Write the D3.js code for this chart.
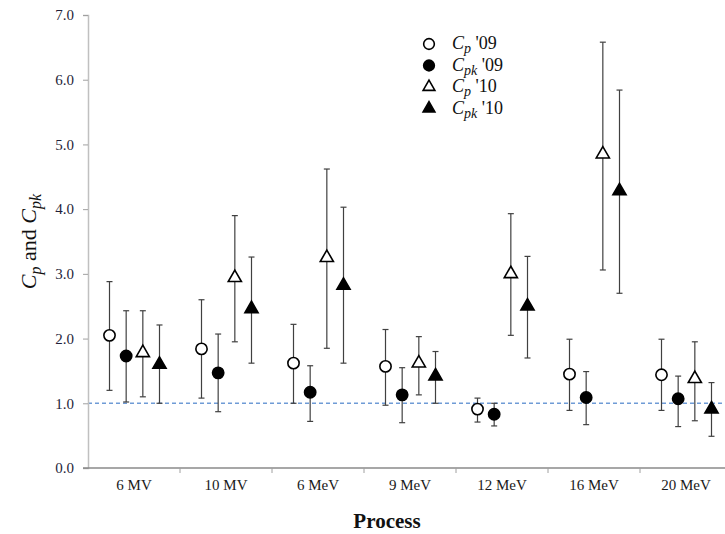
<!DOCTYPE html>
<html>
<head>
<meta charset="utf-8">
<script src="https://cdn.jsdelivr.net/npm/d3@7"></script>
<style>
  body { margin: 0; background: #fff; }
  svg { display: block; font-family: "Liberation Serif", "Times New Roman", serif; }
</style>
</head>
<body>
<div id="chart"></div>
<script>
var categories = ["6 MV", "10 MV", "6 MeV", "9 MeV", "12 MeV", "16 MeV", "20 MeV"];
var yTicks = [0, 1, 2, 3, 4, 5, 6, 7];

var cp09    = [2.05, 1.84, 1.62, 1.57, 0.91, 1.45, 1.44];
var cp09Lo  = [1.20, 1.08, 1.00, 0.97, 0.71, 0.89, 0.89];
var cp09Hi  = [2.88, 2.60, 2.22, 2.14, 1.08, 1.99, 1.99];
var cpk09   = [1.73, 1.47, 1.17, 1.13, 0.83, 1.09, 1.07];
var cpk09Lo = [1.02, 0.87, 0.72, 0.70, 0.65, 0.67, 0.64];
var cpk09Hi = [2.43, 2.07, 1.58, 1.55, 1.00, 1.49, 1.42];
var cp10    = [1.78, 2.94, 3.25, 1.62, 3.00, 4.85, 1.38];
var cp10Lo  = [1.10, 1.95, 1.85, 1.13, 2.05, 3.06, 0.73];
var cp10Hi  = [2.43, 3.90, 4.62, 2.03, 3.93, 6.58, 1.95];
var cpk10   = [1.60, 2.46, 2.82, 1.42, 2.50, 4.28, 0.91];
var cpk10Lo = [1.00, 1.62, 1.62, 1.00, 1.70, 2.70, 0.49];
var cpk10Hi = [2.21, 3.26, 4.03, 1.80, 3.27, 5.84, 1.32];

var series = [
  {sub: "p",  yr: "'09", fill: "#fff", shape: "circle",   v: cp09,  lo: cp09Lo,  hi: cp09Hi},
  {sub: "pk", yr: "'09", fill: "#000", shape: "circle",   v: cpk09, lo: cpk09Lo, hi: cpk09Hi},
  {sub: "p",  yr: "'10", fill: "#fff", shape: "triangle", v: cp10,  lo: cp10Lo,  hi: cp10Hi},
  {sub: "pk", yr: "'10", fill: "#000", shape: "triangle", v: cpk10, lo: cpk10Lo, hi: cpk10Hi}
];

var width = 725, height = 534;
var plotLeft = 88, plotRight = 732, plotTop = 15, plotBottom = 468;

var svg = d3.select("#chart").append("svg")
    .attr("width", width)
    .attr("height", height);

var x = d3.scaleBand().domain(categories).range([plotLeft, plotRight]);
var xi = d3.scaleLinear().domain([0, 3]).range([-24.5, 25.5]);
var y = d3.scaleLinear().domain([0, 7]).range([plotBottom, plotTop]);

// reference line at 1.0
svg.append("line")
  .attr("x1", plotLeft).attr("x2", width)
  .attr("y1", y(1)).attr("y2", y(1))
  .attr("stroke", "#6f9bd6")
  .attr("stroke-width", 1.5)
  .attr("stroke-dasharray", "4,3");

// y axis
var yAxis = d3.axisLeft(y).tickValues(yTicks).tickSize(5).tickPadding(9).tickFormat(d3.format(".1f"));
var gy = svg.append("g")
  .attr("transform", "translate(" + plotLeft + ",0)")
  .call(yAxis);
gy.select(".domain").attr("stroke", "#c0c0c0").attr("stroke-width", 1.5);
gy.selectAll(".tick line").attr("stroke", "#a0a0a0");
gy.selectAll(".tick text").attr("fill", "#1f1f3a").style("font-size", "15px").style("font-family", "Liberation Serif");

// x axis: labels at centres, ticks on band edges
var gx = svg.append("g")
  .attr("transform", "translate(0," + plotBottom + ")")
  .call(d3.axisBottom(x).tickSize(0).tickPadding(11));
gx.select(".domain").remove();
gx.selectAll(".tick text").attr("fill", "#1a1a1a").style("font-size", "15px").style("font-family", "Liberation Serif");

svg.append("line")
  .attr("x1", plotLeft - 5).attr("x2", width)
  .attr("y1", plotBottom).attr("y2", plotBottom)
  .attr("stroke", "#8a8a8a").attr("stroke-width", 1.3);

svg.selectAll(".xtick")
  .data(categories.slice(1))
  .enter().append("line")
  .attr("class", "xtick")
  .attr("x1", function(d) { return x(d); })
  .attr("x2", function(d) { return x(d); })
  .attr("y1", plotBottom).attr("y2", plotBottom + 5)
  .attr("stroke", "#a0a0a0");

// error bars and markers
series.forEach(function(s, i) {
  var g = svg.append("g");
  var px = function(j) { return x(categories[j]) + x.bandwidth() / 2 + xi(i); };
  var idx = d3.range(categories.length);

  g.selectAll(".bar").data(idx).enter().append("line")
    .attr("x1", px).attr("x2", px)
    .attr("y1", function(j) { return y(s.lo[j]); })
    .attr("y2", function(j) { return y(s.hi[j]); })
    .attr("stroke", "#404040").attr("stroke-width", 1.2);

  ["lo", "hi"].forEach(function(k) {
    g.selectAll(".cap" + k).data(idx).enter().append("line")
      .attr("x1", function(j) { return px(j) - 3; })
      .attr("x2", function(j) { return px(j) + 3; })
      .attr("y1", function(j) { return y(s[k][j]); })
      .attr("y2", function(j) { return y(s[k][j]); })
      .attr("stroke", "#404040").attr("stroke-width", 1.2);
  });

  var sym = d3.symbol().type(s.shape === "circle" ? d3.symbolCircle : d3.symbolTriangle)
    .size(s.shape === "circle" ? 100 : 75);
  g.selectAll(".pt").data(idx).enter().append("path")
    .attr("d", sym)
    .attr("transform", function(j) { return "translate(" + px(j) + "," + y(s.v[j]) + ")"; })
    .attr("fill", s.fill)
    .attr("stroke", "#000")
    .attr("stroke-width", 1.6);
});

// legend
var legend = svg.append("g").attr("transform", "translate(429,44)");
series.forEach(function(s, i) {
  var row = legend.append("g").attr("transform", "translate(0," + (i * 21.5) + ")");
  var sym = d3.symbol().type(s.shape === "circle" ? d3.symbolCircle : d3.symbolTriangle)
    .size(s.shape === "circle" ? 90 : 60);
  row.append("path").attr("d", sym)
    .attr("fill", s.fill).attr("stroke", "#000").attr("stroke-width", 1.6);
  var t = row.append("text").attr("x", 23).attr("y", 5).style("font-size", "18px").attr("fill", "#111");
  t.append("tspan").style("font-style", "italic").text("C");
  t.append("tspan").style("font-style", "italic").style("font-size", "14px").attr("dy", 4).text(s.sub);
  t.append("tspan").attr("dy", -4).text(" " + s.yr);
});

// axis titles
var yl = svg.append("text")
  .attr("transform", "translate(36," + ((plotTop + plotBottom) / 2) + ") rotate(-90)")
  .attr("text-anchor", "middle")
  .style("font-size", "22px")
  .attr("fill", "#111");
yl.append("tspan").style("font-style", "italic").text("C");
yl.append("tspan").style("font-style", "italic").style("font-size", "16px").attr("dy", 5).text("p");
yl.append("tspan").attr("dy", -5).text(" and ");
yl.append("tspan").style("font-style", "italic").text("C");
yl.append("tspan").style("font-style", "italic").style("font-size", "16px").attr("dy", 5).text("pk");

svg.append("text")
  .attr("x", 387).attr("y", 528)
  .attr("text-anchor", "middle")
  .style("font-size", "21px")
  .style("font-weight", "bold")
  .attr("fill", "#111")
  .text("Process");
</script>
</body>
</html>
